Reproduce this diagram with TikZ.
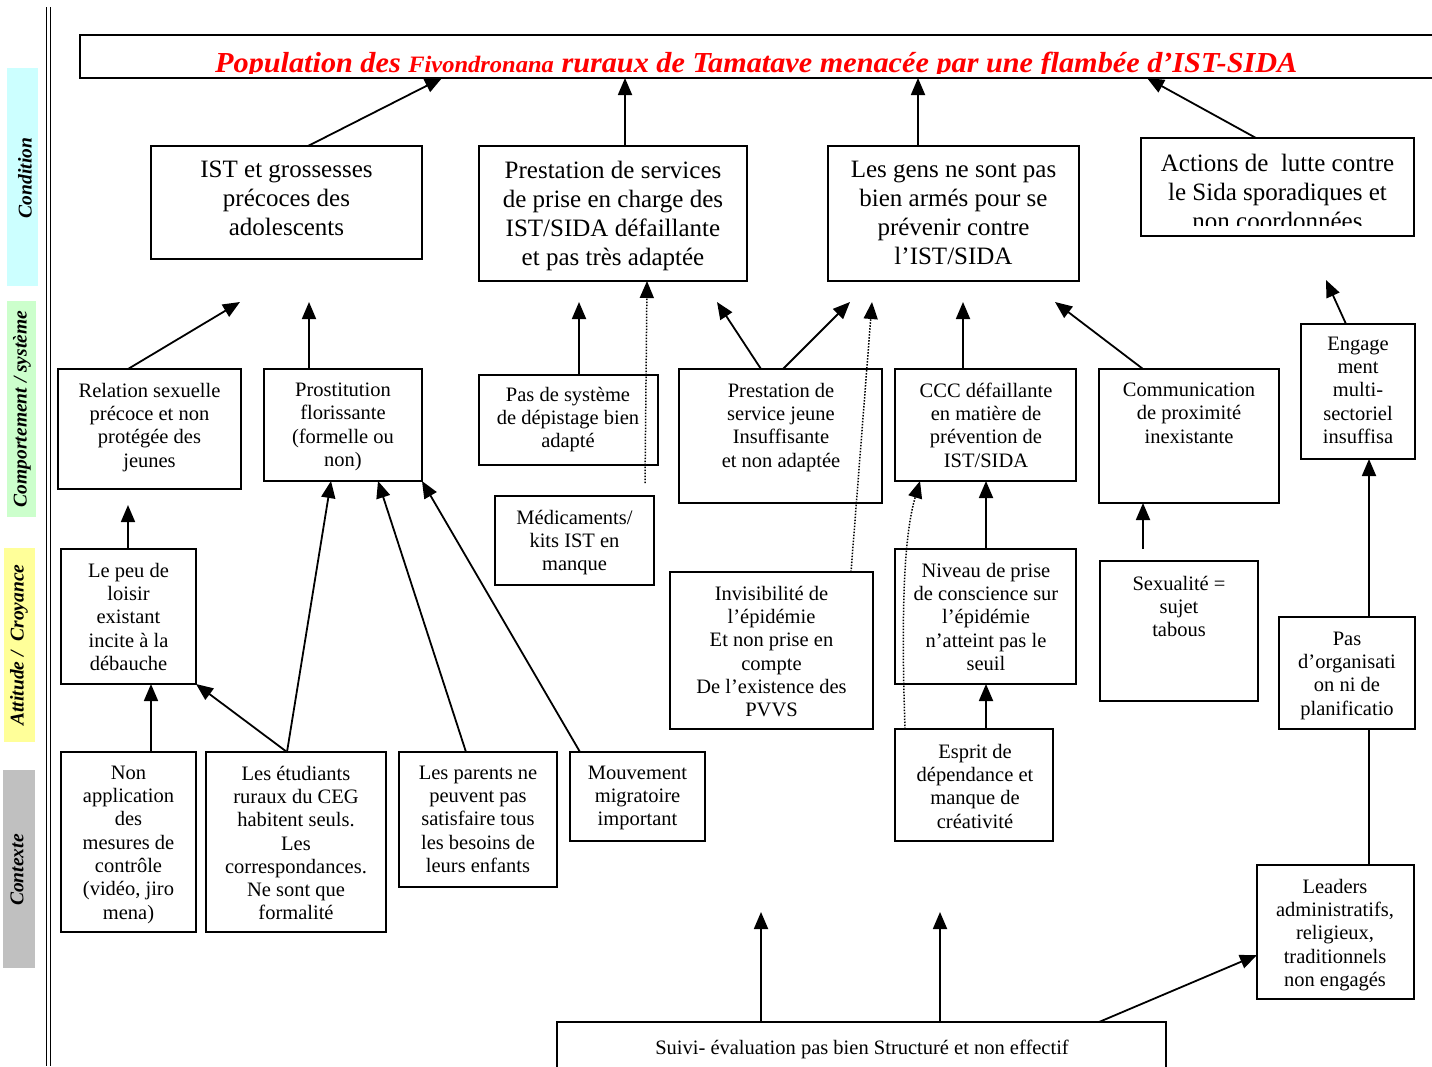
\documentclass[tikz,border=0pt]{standalone}
\usepackage{fontspec}
\setmainfont{Liberation Serif}
\usetikzlibrary{fit,arrows.meta}
\definecolor{cond}{HTML}{CCFFFF}
\definecolor{comp}{HTML}{CCFFCC}
\definecolor{att}{HTML}{FFFF99}
\definecolor{ctx}{HTML}{C0C0C0}
\begin{document}
\begin{tikzpicture}[x=1pt,y=-1pt,
  box/.style={draw, line width=1.8pt, inner sep=0pt, outer sep=0pt},
  band/.style={inner sep=0pt, outer sep=0pt},
  side/.style={font=\fontsize{19.5}{22}\selectfont\bfseries\itshape, rotate=90, inner sep=0pt},
  big/.style={font=\fontsize{25}{29}\selectfont, align=center, inner sep=0pt, anchor=north, yshift=17.3pt, execute at begin node={\strut}},
  sm/.style={font=\fontsize{20.5}{23.3}\selectfont, align=center, inner sep=0pt, anchor=north, yshift=14.31pt, execute at begin node={\strut}},
  arr/.style={line width=1.8pt, -{Triangle[length=17pt,width=14pt]}},
  dot/.style={line width=1.5pt, dash pattern=on 1.5pt off 1.5pt, -{Triangle[length=17pt,width=14pt]}},
]
\useasboundingbox (0,0) rectangle (1432,1066);
\clip (0,0) rectangle (1432,1066);
\fill[white] (0,0) rectangle (1432,1066);

% side bands
\node[band, fill=cond, fit={(7,68) (38,286)}] (bCond) {};
\node[band, fill=comp, fit={(7,301) (36,517)}] (bComp) {};
\node[band, fill=att, fit={(4,548) (35,742)}] (bAtt) {};
\node[band, fill=ctx, fit={(3,770) (35,968)}] (bCtx) {};
\node[side] (lCond) at (25,178) {Condition};
\node[side] (lComp) at (22,409) {Comportement / système};
\node[side] (lAtt) at (19,645) {Attitude /\ \ Croyance};
\node[side] (lCtx) at (17,870) {Contexte};

% double rule
\draw[line width=1.6pt] (46.3,7) -- (46.3,1066);
\draw[line width=1.6pt] (50.3,7) -- (50.3,1066);

% title
\node[box, line width=2.2pt, fit={(80,35) (1460,78)}] (title) {};
\begin{scope}
\clip (80,35) rectangle (1432,73);
\node[anchor=base west, inner sep=0pt, text=red, font=\bfseries\itshape] (ttl) at (215,72.5)
  {\resizebox{1082pt}{\height}{\fontsize{29}{32}\selectfont Population des {\fontsize{23.5}{26}\selectfont Fivondronana} ruraux de Tamatave menacée par une flambée d’IST-SIDA}};
\end{scope}

% level 1
\node[box, fit={(151,146) (422,259)}] (ist) {};
\node[big] (tIst) at (286.5,178) {IST et grossesses\\précoces des\\adolescents};
\node[box, fit={(479,146) (747,281)}] (prest) {};
\node[big] (tPrest) at (613,178) {Prestation de services\\de prise en charge des\\IST/SIDA défaillante\\et pas très adaptée};
\node[box, fit={(828,146) (1079,281)}] (gens) {};
\node[big] (tGens) at (953.5,178) {Les gens ne sont pas\\bien armés pour se\\prévenir contre\\l’IST/SIDA};
\node[box, fit={(1141,138) (1414,236)}] (actions) {};
\begin{scope}
\clip (1141,138) rectangle (1414,225);
\node[big] (tAct) at (1277.5,171) {Actions de\ \ lutte contre\\le Sida sporadiques et\\non coordonnées};
\end{scope}

% level 2
\node[box, fit={(58,369) (241,489)}] (rel) {};
\node[sm] (tRel) at (149.5,397) {Relation sexuelle\\précoce et non\\protégée des\\jeunes};
\node[box, fit={(264,369) (422,481)}] (prost) {};
\node[sm] (tProst) at (343,397) {Prostitution\\florissante\\(formelle ou\\non)};
\node[box, fit={(479,375) (658,465)}] (pds) {};
\node[sm] (tPds) at (568,401) {Pas de système\\de dépistage bien\\adapté};
\node[box, fit={(495,496) (654,585)}] (med) {};
\node[sm] (tMed) at (574.5,524) {Médicaments/\\kits IST en\\manque};
\node[box, fit={(679,369) (882,503)}] (pserv) {};
\node[sm] (tPserv) at (781,397) {Prestation de\\service jeune\\Insuffisante\\et non adaptée};
\node[box, fit={(895,369) (1076,481)}] (ccc) {};
\node[sm] (tCcc) at (986,397) {CCC défaillante\\en matière de\\prévention de\\IST/SIDA};
\node[box, fit={(1099,369) (1279,503)}] (comm) {};
\node[sm] (tComm) at (1189,397) {Communication\\de proximité\\inexistante};
\node[box, fit={(1301,324) (1415,459)}] (engag) {};
\node[sm] (tEngag) at (1358,351) {Engage\\ment\\multi-\\sectoriel\\insuffisa};

% level 3
\node[box, fit={(61,549) (196,684)}] (loisir) {};
\node[sm] (tLoisir) at (128.5,577) {Le peu de\\loisir\\existant\\incite à la\\débauche};
\node[box, fit={(670,572) (873,729)}] (invis) {};
\node[sm] (tInvis) at (771.5,600) {Invisibilité de\\l’épidémie\\Et non prise en\\compte\\De l’existence des\\PVVS};
\node[box, fit={(895,549) (1076,684)}] (niveau) {};
\node[sm] (tNiveau) at (986,577) {Niveau de prise\\de conscience sur\\l’épidémie\\n’atteint pas le\\seuil};
\node[box, fit={(1100,561) (1258,701)}] (sex) {};
\node[sm] (tSex) at (1179,590) {Sexualité =\\sujet\\tabous};
\node[box, fit={(1279,617) (1415,729)}] (pasorg) {};
\node[sm] (tPasorg) at (1347,646) {Pas\\d’organisati\\on ni de\\planificatio};

% level 4
\node[box, fit={(61,752) (196,932)}] (nonapp) {};
\node[sm] (tNonapp) at (128.5,780) {Non\\application\\des\\mesures de\\contrôle\\(vidéo, jiro\\mena)};
\node[box, fit={(206,752) (386,932)}] (etud) {};
\node[sm] (tEtud) at (296,780) {Les étudiants\\ruraux du CEG\\habitent seuls.\\Les\\correspondances.\\Ne sont que\\formalité};
\node[box, fit={(399,752) (557,887)}] (parents) {};
\node[sm] (tParents) at (478,780) {Les parents ne\\peuvent pas\\satisfaire tous\\les besoins de\\leurs enfants};
\node[box, fit={(570,752) (705,841)}] (mouv) {};
\node[sm] (tMouv) at (637.5,780) {Mouvement\\migratoire\\important};
\node[box, fit={(895,729) (1053,841)}] (esprit) {};
\node[sm] (tEsprit) at (975,758) {Esprit de\\dépendance et\\manque de\\créativité};
\node[box, fit={(1257,865) (1414,999)}] (leaders) {};
\node[sm] (tLeaders) at (1335,893) {Leaders\\administratifs,\\religieux,\\traditionnels\\non engagés};
\node[box, fit={(557,1022) (1166,1100)}] (suivi) {};
\node[sm] (tSuivi) at (862,1052) {Suivi- évaluation pas bien Structuré et non effectif};

% free ends
\coordinate (fRel) at (240,302);
\coordinate (fProst) at (309,302);
\coordinate (fPds) at (579,302);
\coordinate (fPsA) at (717,302);
\coordinate (fPsB) at (850,302);
\coordinate (fInv) at (872,302);
\coordinate (fCcc) at (963,302);
\coordinate (fComm) at (1055,302);
\coordinate (fEng) at (1326,280);
\coordinate (fLoi) at (128,505);
\coordinate (fSuA) at (761,912);
\coordinate (fSuB) at (940,912);
\coordinate (sMed) at (645,483);
\coordinate (sSex) at (1143,549);

% connectors to title
\draw[arr] (ist.north -| 308,0) -- (title.south -| 442,0);
\draw[arr] (prest.north -| 625,0) -- (title.south -| 625,0);
\draw[arr] (gens.north -| 918,0) -- (title.south -| 918,0);
\draw[arr] (actions.north -| 1256,0) -- (title.south -| 1147,0);

% level 2 connectors
\draw[arr] (rel.north -| 128,0) -- (fRel);
\draw[arr] (prost.north -| 309,0) -- (fProst);
\draw[arr] (pds.north -| 579,0) -- (fPds);
\draw[dot] (sMed) -- (prest.south -| 647,0);
\draw[arr] (pserv.north -| 761,0) -- (fPsA);
\draw[arr] (pserv.north -| 783,0) -- (fPsB);
\draw[dot] (invis.north -| 851,0) -- (fInv);
\draw[arr] (ccc.north -| 963,0) -- (fCcc);
\draw[arr] (comm.north -| 1143,0) -- (fComm);
\draw[arr] (engag.north -| 1346,0) -- (fEng);

% level 3 connectors
\draw[arr] (loisir.north -| 128,0) -- (fLoi);
\draw[arr] (niveau.north -| 986,0) -- (ccc.south -| 986,0);
\draw[arr] (sSex) -- (comm.south -| 1143,0);
\draw[arr] (pasorg.north -| 1369,0) -- (engag.south -| 1369,0);

% level 4 connectors
\draw[arr] (nonapp.north -| 151,0) -- (loisir.south -| 151,0);
\draw[arr] (etud.north -| 287,0) -- (loisir.south east);
\draw[arr] (etud.north -| 287,0) -- (prost.south -| 331,0);
\draw[arr] (parents.north -| 466,0) -- (prost.south -| 378,0);
\draw[arr] (mouv.north -| 580,0) -- (prost.south east);
\draw[arr] (esprit.north -| 986,0) -- (niveau.south -| 986,0);
\draw[dot] (esprit.north -| 905,0) .. controls (901,610) and (904,535) .. (ccc.south -| 920,0);
\draw[line width=1.8pt] (leaders.north -| 1369,0) -- (pasorg.south -| 1369,0);
\draw[arr] (suivi.north -| 761,0) -- (fSuA);
\draw[arr] (suivi.north -| 940,0) -- (fSuB);
\draw[arr] (suivi.north -| 1099,0) -- (leaders.west |- 0,955);
\end{tikzpicture}
\end{document}
